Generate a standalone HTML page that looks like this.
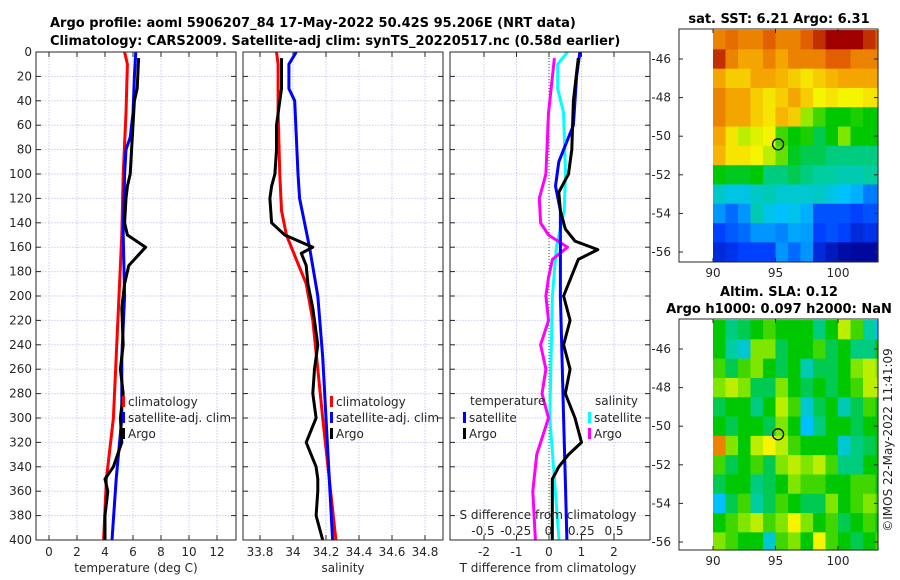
<!DOCTYPE html>
<html><head><meta charset="utf-8"><style>
body{margin:0;background:#fff;}
svg{display:block;font-family:"DejaVu Sans","Liberation Sans",sans-serif;}
.t{font-size:12px;fill:#262626;}
.b{font-size:13px;font-weight:bold;fill:#000;}
</style></head><body>
<svg id="c" width="900" height="580" xmlns="http://www.w3.org/2000/svg"></svg>
<script>
// ---- data ----
const depthsTClim=[0,10,50,100,150,200,250,300,350,400];
const tClim=[5.4,5.6,5.5,5.3,5.2,5.0,4.8,4.6,4.1,3.9];
const depthsTSat=[0,20,50,70,80,100,150,200,250,300,350,400];
const tSat=[6.2,6.1,6.0,5.8,5.5,5.4,5.3,5.4,5.2,5.2,4.8,4.5];
const depthsArgo=[5,30,40,60,80,100,110,120,140,150,160,165,175,190,210,240,260,280,300,320,340,350,360,380,400];
const tArgo=[6.4,6.3,6.1,6.0,5.9,5.8,5.6,5.5,5.4,5.6,6.9,6.5,5.7,5.4,5.2,5.3,5.1,5.3,5.1,5.2,4.6,4.0,4.2,4.0,4.0];
const depthsSClim=[0,10,50,100,130,150,170,190,220,260,300,350,400];
const sClim=[33.9,33.91,33.91,33.92,33.93,33.96,34.02,34.08,34.12,34.15,34.18,34.22,34.26];
const depthsSSat=[0,10,30,40,100,120,160,200,250,300,400];
const sSat=[34.02,33.975,33.975,34.01,34.03,34.04,34.1,34.15,34.18,34.2,34.24];
const sArgo=[33.93,33.93,33.92,33.9,33.9,33.89,33.87,33.86,33.87,33.95,34.12,34.05,34.08,34.09,34.12,34.15,34.13,34.12,34.14,34.08,34.14,34.15,34.15,34.14,34.18];
const depthsDSat=[0,20,40,60,70,90,110,130,160,200,250,300,350,400];
const dTSat=[0.95,0.85,0.8,0.75,0.6,0.3,0.2,0.35,0.35,0.35,0.4,0.45,0.5,0.55];
const depthsDArgo=[5,40,80,100,115,130,145,155,162,170,180,200,220,240,260,280,300,320,330,340,350,370,400];
const dTArgo=[0.9,0.75,0.7,0.6,0.3,0.35,0.5,0.8,1.5,0.9,0.75,0.45,0.65,0.45,0.65,0.5,0.8,1.0,0.6,0.3,0.1,0.1,0.1];
const depthsDS=[0,10,30,50,100,130,160,200,300,400];
const dSSat=[0.145,0.07,0.07,0.115,0.13,0.12,0.06,0.03,0.01,0.08];
const depthsDSA=[5,50,100,120,140,150,160,170,185,200,220,240,260,280,300,330,360,400];
const dSArgo=[0.045,0.0,-0.02,-0.07,-0.06,0.0,0.145,0.03,0.0,-0.02,0.0,-0.06,-0.02,-0.05,0.0,-0.09,-0.12,-0.1];
const depthTicks=[0,20,40,60,80,100,120,140,160,180,200,220,240,260,280,300,320,340,360,380,400];
const tTicks=[0,2,4,6,8,10,12];
const sTicks=[33.8,34,34.2,34.4,34.6,34.8];
const sTickLabels=["33.8","34","34.2","34.4","34.6","34.8"];
const dTTicks=[-2,-1,0,1,2];
const dSTicks=[-0.5,-0.25,0,0.25,0.5];
const dSTickLabels=["-0.5","-0.25","0","0.25","0.5"];
const latTicks=[-46,-48,-50,-52,-54,-56];
const lonTicks=[90,95,100];
const sstGrid=[
[0.85,0.88,0.85,0.85,0.9,0.85,0.85,0.9,0.95,1,1,1,0.95,0.9],
[0.95,0.85,0.8,0.8,0.85,0.8,0.85,0.85,0.85,0.9,0.9,0.85,0.85,0.85],
[0.8,0.75,0.75,0.8,0.8,0.78,0.75,0.72,0.75,0.78,0.8,0.8,0.8,0.8],
[0.85,0.8,0.8,0.75,0.72,0.75,0.8,0.75,0.7,0.72,0.7,0.7,0.72,0.72],
[0.85,0.8,0.8,0.75,0.72,0.78,0.75,0.62,0.55,0.5,0.5,0.52,0.5,0.5],
[0.8,0.72,0.65,0.68,0.7,0.55,0.5,0.52,0.45,0.5,0.6,0.5,0.5,0.5],
[0.78,0.72,0.72,0.7,0.65,0.58,0.48,0.45,0.45,0.42,0.42,0.42,0.42,0.42],
[0.5,0.48,0.48,0.5,0.42,0.42,0.45,0.42,0.4,0.4,0.38,0.38,0.4,0.4],
[0.36,0.33,0.33,0.36,0.38,0.35,0.35,0.35,0.36,0.33,0.3,0.28,0.22,0.22],
[0.25,0.2,0.25,0.38,0.32,0.3,0.32,0.28,0.17,0.17,0.17,0.15,0.17,0.17],
[0.15,0.18,0.2,0.25,0.25,0.23,0.27,0.26,0.15,0.17,0.15,0.1,0.12,0.1],
[0.1,0.12,0.15,0.15,0.15,0.25,0.2,0.25,0.1,0.06,0.03,0.02,0.02,0.03]];
const slaGrid=[
[0.5,0.42,0.45,0.5,0.55,0.5,0.5,0.5,0.42,0.5,0.65,0.55,0.4,0.3],
[0.5,0.4,0.35,0.6,0.6,0.45,0.5,0.5,0.55,0.45,0.5,0.42,0.42,0.5],
[0.55,0.45,0.55,0.6,0.5,0.45,0.5,0.38,0.45,0.45,0.5,0.6,0.65,0.6],
[0.6,0.65,0.6,0.45,0.45,0.6,0.5,0.45,0.5,0.45,0.5,0.55,0.65,0.65],
[0.45,0.5,0.5,0.42,0.5,0.65,0.55,0.35,0.45,0.5,0.38,0.45,0.55,0.5],
[0.5,0.45,0.5,0.5,0.45,0.6,0.5,0.3,0.42,0.5,0.5,0.45,0.5,0.5],
[0.85,0.6,0.5,0.65,0.7,0.65,0.55,0.5,0.5,0.5,0.35,0.42,0.45,0.5],
[0.55,0.45,0.5,0.55,0.45,0.6,0.65,0.6,0.65,0.55,0.42,0.42,0.5,0.5],
[0.45,0.5,0.5,0.42,0.45,0.5,0.6,0.55,0.55,0.5,0.5,0.55,0.55,0.5],
[0.3,0.45,0.55,0.4,0.45,0.55,0.5,0.45,0.45,0.6,0.5,0.55,0.6,0.55],
[0.5,0.55,0.6,0.65,0.55,0.6,0.7,0.6,0.5,0.55,0.45,0.5,0.55,0.5],
[0.6,0.55,0.5,0.5,0.35,0.55,0.6,0.5,0.7,0.55,0.5,0.45,0.5,0.55]];
const argoLon=95.206, argoLat=-50.42;

// ---- helpers ----
const svg=document.getElementById('c');
const NS='http://www.w3.org/2000/svg';
function mk(tag,attrs,parent){const e=document.createElementNS(NS,tag);for(const k in attrs)e.setAttribute(k,attrs[k]);(parent||svg).appendChild(e);return e;}
function txt(s,x,y,cls,anchor,parent){const e=mk('text',{x:x,y:y,class:cls,'text-anchor':anchor||'middle'},parent);e.textContent=s;return e;}
const Y0=52,Y1=540;
const yD=d=>Y0+(d/400)*(Y1-Y0);
function lin(d0,d1,p0,p1){return v=>p0+(v-d0)/(d1-d0)*(p1-p0);}

function panel(name,L,R){
  const g=mk('g',{});
  
  
  return g;
}
function gridAndFrame(g,L,R,xs,xf){
  depthTicks.forEach(d=>{mk('line',{x1:L,x2:R,y1:yD(d),y2:yD(d),stroke:'#c8cdef','stroke-width':1,'stroke-dasharray':'1.5,1.5'},g);});
  xs.forEach(v=>{const x=xf(v);mk('line',{x1:x,x2:x,y1:Y0,y2:Y1,stroke:'#c8cdef','stroke-width':1,'stroke-dasharray':'1.5,1.5'},g);
    mk('line',{x1:x,x2:x,y1:Y1,y2:Y1-5,stroke:'#262626'},g);mk('line',{x1:x,x2:x,y1:Y0,y2:Y0+5,stroke:'#262626'},g);});
  depthTicks.forEach(d=>{mk('line',{x1:L,x2:L+5,y1:yD(d),y2:yD(d),stroke:'#262626'},g);mk('line',{x1:R,x2:R-5,y1:yD(d),y2:yD(d),stroke:'#262626'},g);});
}
function frame(g,L,R){mk('rect',{x:L,y:Y0,width:R-L,height:Y1-Y0,fill:'none',stroke:'#262626','stroke-width':1},g);}
function line(g,name,ds,vs,xf,color){
  const p=ds.map((d,i)=>xf(vs[i]).toFixed(1)+','+yD(d).toFixed(1)).join(' ');
  const e=mk('polyline',{points:p,fill:'none',stroke:color,'stroke-width':3,'stroke-linejoin':'round'},g);
  
  
}
function legendEntry(g,name,x,y,color,label){
  const grp=mk('g',{},g);
  
  
  mk('rect',{x:x,y:y-10,width:3,height:11,fill:color},grp);
  txt(label,x+6,y,'t','start',grp);
}

// ---- titles ----
const t1=txt('Argo profile: aoml 5906207_84 17-May-2022 50.42S 95.206E (NRT data)',50,27,'b','start');


const t2=txt('Climatology: CARS2009. Satellite-adj clim: synTS_20220517.nc (0.58d earlier)',50,45,'b','start');



// ---- panel 1: temperature ----
{const L=36,R=236,xf=lin(0,12,49,217);const g=panel('temperature-panel',L,R);
 gridAndFrame(g,L,R,tTicks,xf);
 line(g,'temp-climatology-line',depthsTClim,tClim,xf,'#ff0000');
 line(g,'temp-satellite-line',depthsTSat,tSat,xf,'#0000ff');
 line(g,'temp-argo-line',depthsArgo,tArgo,xf,'#000000');
 frame(g,L,R);
 depthTicks.forEach(d=>txt(String(d),L-4,yD(d)+4,'t','end',g));
 tTicks.forEach(v=>txt(String(v),xf(v),556,'t','middle',g));
 const xl=txt('temperature (deg C)',136,572,'t','middle',g);
 legendEntry(g,'legend-climatology',122,406,'#ff0000','climatology');
 legendEntry(g,'legend-satellite-adj',122,422,'#0000ff','satellite-adj. clim');
 legendEntry(g,'legend-argo',122,438,'#000000','Argo');
}
// ---- panel 2: salinity ----
{const L=243,R=443,xf=lin(33.8,34.8,260,425);const g=panel('salinity-panel',L,R);
 gridAndFrame(g,L,R,sTicks,xf);
 line(g,'sal-climatology-line',depthsSClim,sClim,xf,'#ff0000');
 line(g,'sal-satellite-line',depthsSSat,sSat,xf,'#0000ff');
 line(g,'sal-argo-line',depthsArgo,sArgo,xf,'#000000');
 frame(g,L,R);
 sTicks.forEach((v,i)=>txt(sTickLabels[i],xf(v),556,'t','middle',g));
 const xl=txt('salinity',343,572,'t','middle',g);
 legendEntry(g,'legend-climatology-sal',330,406,'#ff0000','climatology');
 legendEntry(g,'legend-satellite-adj-sal',330,422,'#0000ff','satellite-adj. clim');
 legendEntry(g,'legend-argo-sal',330,438,'#000000','Argo');
}
// ---- panel 3: differences ----
{const L=450,R=650,xf=lin(-2,2,484,614),sf=lin(-0.5,0.5,483,614);const g=panel('difference-panel',L,R);
 gridAndFrame(g,L,R,dTTicks,xf);
 mk('line',{x1:xf(0),x2:xf(0),y1:Y0,y2:Y1,stroke:'#3a5a2a','stroke-width':1,'stroke-dasharray':'1,2'},g);
 line(g,'dS-satellite-line',depthsDS,dSSat,sf,'#00ffff');
 line(g,'dS-argo-line',depthsDSA,dSArgo,sf,'#ff00ff');
 line(g,'dT-satellite-line',depthsDSat,dTSat,xf,'#0000ff');
 line(g,'dT-argo-line',depthsDArgo,dTArgo,xf,'#000000');
 frame(g,L,R);
 dTTicks.forEach(v=>txt(String(v),xf(v),556,'t','middle',g));
 const xl=txt('T difference from climatology',548,572,'t','middle',g);
 const sl=txt('S difference from climatology',548,519,'t','middle',g);
 dSTicks.forEach((v,i)=>txt(dSTickLabels[i],sf(v),535,'t','middle',g));
 txt('temperature',470,405,'t','start',g);
 legendEntry(g,'legend-dT-satellite',463,422,'#0000ff','satellite');
 legendEntry(g,'legend-dT-argo',463,438,'#000000','Argo');
 txt('salinity',595,405,'t','start',g);
 legendEntry(g,'legend-dS-satellite',588,422,'#00ffff','satellite');
 legendEntry(g,'legend-dS-argo',588,438,'#ff00ff','Argo');
}
// ---- maps ----
const cmapStops=[[0,[0,0,143]],[0.15,[0,64,255]],[0.3,[0,192,255]],[0.4,[0,205,160]],[0.5,[0,200,0]],[0.6,[128,230,0]],[0.7,[245,245,0]],[0.8,[245,165,0]],[0.9,[225,95,0]],[1,[160,0,0]]];
function cmap(v){for(let i=1;i<cmapStops.length;i++){if(v<=cmapStops[i][0]){const a=cmapStops[i-1],b=cmapStops[i];const f=(v-a[0])/(b[0]-a[0]);return 'rgb('+a[1].map((c,k)=>Math.round(c+(b[1][k]-c)*f)).join(',')+')';}}return 'rgb(160,0,0)';}
function map(name,grid,top,bot,latY46,latY56,titles){
  const L=679,R=878;const xf=lin(90,100,713,838);const yf=lin(-46,-56,latY46,latY56);
  const g=mk('g',{});
  
  
  const lat0=-44.5;
  grid.forEach((row,r)=>row.forEach((v,c)=>{
    const x0=Math.max(xf(90+c),713),x1=Math.min(xf(91+c),R),y0=Math.max(yf(lat0-r),top),y1=Math.min(yf(lat0-r-1),bot);
    if(x1>x0&&y1>y0){const cell=mk('rect',{x:x0,y:y0,width:x1-x0+0.6,height:y1-y0+0.6,fill:cmap(v)},g);
      
      }
  }));
  mk('rect',{x:L,y:top,width:R-L,height:bot-top,fill:'none',stroke:'#262626'},g);
  latTicks.forEach(v=>{const y=yf(v);mk('line',{x1:L,x2:L+4,y1:y,y2:y,stroke:'#262626'},g);mk('line',{x1:R,x2:R-4,y1:y,y2:y,stroke:'#262626'},g);txt(String(v),L-8,y+4,'t','end',g);});
  lonTicks.forEach(v=>{const x=xf(v);mk('line',{x1:x,x2:x,y1:bot,y2:bot-4,stroke:'#262626'},g);mk('line',{x1:x,x2:x,y1:top,y2:top+4,stroke:'#262626'},g);txt(String(v),x,bot+15,'t','middle',g);});
  const ci=mk('circle',{cx:xf(argoLon),cy:yf(argoLat),r:5.5,fill:'none',stroke:'#000','stroke-width':1.3},g);
  
  
  titles.forEach(t=>{const e=txt(t[0],779,t[1],'b','middle',g);});
}
map('sst-map',sstGrid,29,262,59,252,[['sat. SST: 6.21 Argo: 6.31',23]]);
map('sla-map',slaGrid,319,550,349,542,[['Altim. SLA: 0.12',296],['Argo h1000: 0.097 h2000: NaN',313]]);
const cr=txt('©IMOS 22-May-2022 11:41:09',0,0,'t','middle');
cr.setAttribute('transform','translate(892,440) rotate(-90)');


</script>
</body></html>
